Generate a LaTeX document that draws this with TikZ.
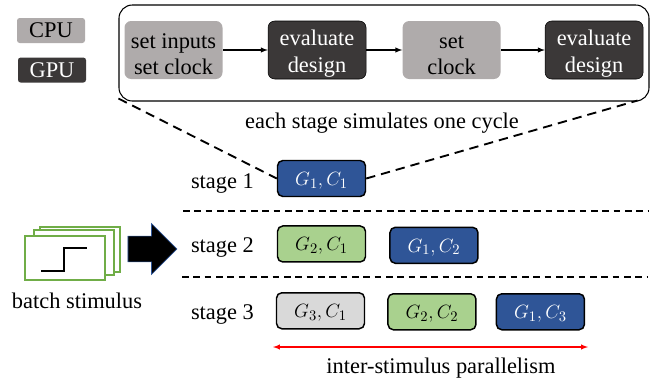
\documentclass[tikz,border=0pt]{standalone}
\usepackage{fontspec}
\usepackage{amsmath}
\setmainfont{Liberation Serif}
\usetikzlibrary{calc,positioning,shapes.arrows}
\definecolor{cpugray}{HTML}{AFABAB}
\definecolor{gpudark}{HTML}{3B3838}
\definecolor{chipblue}{HTML}{2F5597}
\definecolor{chipgreen}{HTML}{A9D18E}
\definecolor{chipgray}{HTML}{D9D9D9}
\definecolor{cardgreen}{HTML}{70AD47}
\newcommand{\lowfirst}{\rule{0pt}{17.5pt}}
\newcommand{\lowchip}{\rule{0pt}{13pt}}
\tikzstyle{txt} = [inner sep=0pt, font=\fontsize{16.8}{20}\selectfont, align=center]
\tikzstyle{legendbox} = [txt, rectangle, rounded corners=2pt, minimum width=51pt, minimum height=18.75pt]
\tikzstyle{block} = [txt, rectangle, rounded corners=5pt, minimum width=73.5pt, minimum height=43.5pt]
\tikzstyle{cpublock} = [block, fill=cpugray]
\tikzstyle{gpublock} = [block, fill=gpudark, draw=black, text=white]
\tikzstyle{chip} = [txt, font=\fontsize{15}{18}\selectfont, rectangle, rounded corners=4pt, draw=black, line width=1.1pt, minimum width=66pt, minimum height=27pt]
\tikzstyle{card} = [rectangle, draw=cardgreen, fill=white, line width=1.5pt, inner sep=0pt]

\begin{document}
\begin{tikzpicture}[x=0.75pt, y=-0.75pt, node distance=20pt]
  \useasboundingbox (0,0) rectangle (653,383);
  % legend
  \node[legendbox, fill=cpugray] (CPU) at (51,30.5) {CPU};
  \node[legendbox, fill=gpudark, text=white, below=10.5pt of CPU, xshift=0.75pt] (GPU) {GPU};
  % one cycle
  \node[rectangle, draw, rounded corners=10pt, line width=0.8pt, minimum width=397.5pt, minimum height=72pt] (sim) at (384,53) {};
  \node[cpublock] (SI) at (173.5,50) {\lowfirst set inputs\\set clock};
  \node[gpublock, right=33.75pt of SI] (E1) {\lowfirst evaluate\\design};
  \node[cpublock, right=27pt of E1] (SC) {\lowfirst set\\clock};
  \node[gpublock, right=33pt of SC] (E2) {\lowfirst evaluate\\design};
  \node[txt, below=8pt of sim, xshift=-1.5pt] (each) {each stage simulates one cycle};
  \draw[-latex, line width=0.8pt] (SI) -- (E1);
  \draw[-latex, line width=0.8pt] (E1) -- (SC);
  \draw[-latex, line width=0.8pt] (SC) -- (E2);
  % stages
  \node[chip, fill=chipblue, text=white] (G1C1) at (321.5,178.5) {\lowchip$G_1,C_1$};
  \node[chip, fill=chipgreen, below=21pt of G1C1] (G2C1) {\lowchip$G_2,C_1$};
  \node[chip, fill=chipblue, text=white, right=17.25pt of G2C1, yshift=-1pt] (G1C2) {\lowchip$G_1,C_2$};
  \node[chip, fill=chipgray, below=22pt of G2C1, xshift=-0.75pt] (G3C1) {\lowchip$G_3,C_1$};
  \node[chip, fill=chipgreen, right=16.5pt of G3C1, yshift=-0.75pt] (G2C2) {\lowchip$G_2,C_2$};
  \node[chip, fill=chipblue, text=white, right=14.25pt of G2C2] (G1C3) {\lowchip$G_1,C_3$};
  \node[txt, left=17pt of G1C1, yshift=-3.5pt] (stageA) {stage 1};
  \node[txt, left=17pt of G2C1, yshift=-3pt] (stageB) {stage 2};
  \node[txt, left=16.25pt of G3C1, yshift=-3pt] (stageC) {stage 3};
  \draw[dashed, line width=1.4pt, dash pattern=on 7pt off 4.5pt] ($(sim.south west)+(0,-3)$) -- (G1C1.west);
  \draw[dashed, line width=1.4pt, dash pattern=on 7pt off 4.5pt] (G1C1.east) -- ($(sim.south east)+(-12,-1)$);
  \coordinate (ruleAl) at (183,211);
  \coordinate (ruleAr) at (648,211);
  \coordinate (ruleBl) at (182,277);
  \coordinate (ruleBr) at (648,277);
  \draw[line width=0.9pt, dash pattern=on 5pt off 3.5pt] (ruleAl) -- (ruleAr);
  \draw[line width=0.9pt, dash pattern=on 5pt off 3.5pt] (ruleBl) -- (ruleBr);
  % parallelism
  \coordinate (parL) at (273,347);
  \coordinate (parR) at (588,347);
  \draw[latex-latex, red, line width=0.8pt] (parL) -- (parR);
  \node[txt] (par) at (441,368.5) {inter-stimulus parallelism};
  % stimulus
  \node[card, minimum width=60pt, minimum height=33.75pt] (cardC) at (79.5,249.5) {};
  \node[card, minimum width=60pt, minimum height=33.75pt] (cardB) at (73.5,252.5) {};
  \node[card, minimum width=60pt, minimum height=33pt] (cardA) at (65,258) {};
  \draw[line width=1.3pt] (41,271) -- (64,271) -- (64,248) -- (87,248);
  \node[txt, below=8.5pt of cardA, xshift=9pt] (batch) {batch stimulus};
  \node[single arrow, fill=black, draw=chipblue, line width=0.5pt, inner xsep=0pt, inner ysep=9.4pt, minimum height=36.75pt, minimum width=37.5pt, single arrow head extend=9.4pt] (push) at (146,249) {};
\end{tikzpicture}
\end{document}
